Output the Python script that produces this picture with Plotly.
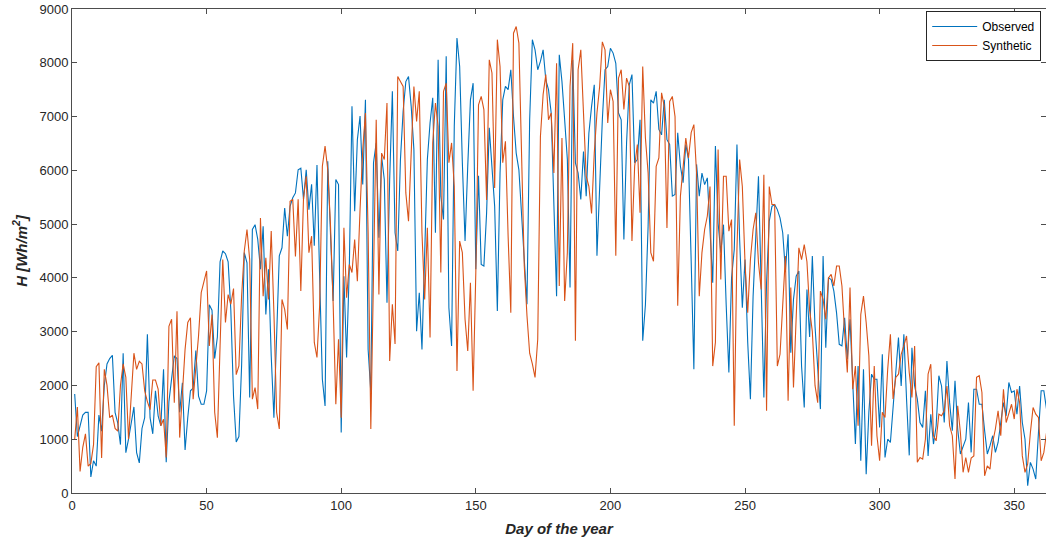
import plotly.graph_objects as go

observed = [
1840,1050,1250,1450,1500,1500,300,600,500,1450,
1150,2000,2400,2500,2560,1500,1300,900,2600,750,
1000,1300,1600,750,560,1200,1400,2950,1400,1100,
1900,1435,1250,2300,570,1700,2100,2550,2500,1500,
2050,800,1400,1900,1950,2650,1800,1650,1650,1900,
3500,3400,2500,2900,4300,4500,4450,4300,3400,1800,
950,1050,2365,4470,4280,1775,4900,4990,4715,4160,
4960,3320,4160,2550,1400,2920,4410,4560,5300,4775,
5330,5490,5580,6010,6040,5460,6010,5270,5740,4600,
6100,4000,2115,1620,6170,4840,3570,5830,5735,1125,
4030,2520,4160,7190,5240,6570,7010,5735,7310,2670,
1870,6140,6510,4745,6260,5830,3540,5830,7470,4840,
4500,6200,7100,7650,7745,7190,6385,3010,3725,2670,
4470,6200,6880,7350,4840,8055,5520,5085,8120,3445,
2735,6820,8460,7930,6140,4685,6075,7310,7620,4160,
5900,4250,4220,5200,6790,5950,5330,3385,5950,7310,
7560,7500,7870,7000,6320,6010,5150,4280,3510,6940,
8430,8240,7870,8025,8240,7680,7500,7065,5460,3660,
8150,7650,6940,6200,3820,8055,6140,5950,5460,6350,
5520,6690,7190,7590,4410,5700,6940,7870,7930,8270,
8180,7990,7065,6940,4715,6510,7590,7780,6140,6200,
6940,2830,3500,4960,7310,7250,7470,6760,6660,7310,
6570,6480,5520,5550,6700,6075,5770,6480,6200,4310,
2300,6110,5520,5950,5735,5860,4960,3910,6450,5020,
4470,4990,3500,2240,4000,4530,6480,4715,3445,4340,
2800,1745,3660,4775,5890,3850,1775,3910,5055,5330,
5365,5270,5115,4840,4130,4810,2610,3600,4030,4130,
2360,1590,3785,2900,4405,3100,2360,1560,4405,2700,
4000,3970,3755,3350,2765,2735,3260,2490,3230,2115,
910,2360,600,2300,350,1500,2210,2115,2115,1220,
2580,660,1000,940,1600,2115,2890,1990,2950,1745,
700,2700,1990,1745,1310,1220,1900,690,1465,910,
1250,2180,1990,1310,2455,1680,1160,2085,1190,725,
880,1000,1680,755,1930,1930,1650,1650,1160,725,
880,1065,755,940,1310,1680,1435,2055,1870,1900,
1465,1990,1310,1000,135,570,445,260,1125,1900,
1900,1560,
]

synthetic = [
1000,1600,400,850,1100,500,550,900,2350,2420,
650,2300,2000,1400,1450,1200,1150,2000,2400,2150,
1000,1800,2600,2300,2450,2400,1900,1700,1550,2100,
2100,1930,1250,1370,660,3100,3230,1680,3380,1030,
1870,2670,3170,3260,1745,2360,2920,3725,3940,4130,
2735,3320,1500,1030,2735,4340,3170,3690,3510,3800,
2200,2365,3660,4500,4900,4340,1745,1960,1560,5115,
3660,4375,3600,4870,3350,1500,1190,3600,3415,3040,
5425,5460,4400,5460,3755,5490,5890,4470,4775,2800,
2520,3500,6075,6450,6010,5000,3540,1650,2860,1400,
4930,3630,4250,4100,4715,3940,5270,6385,7065,4840,
1190,4065,6940,3690,6320,6200,7250,2455,3510,2770,
7745,7650,7560,5580,5055,6320,7560,6910,7470,4840,
3600,4930,2890,6510,7250,6820,4100,7470,7620,6140,
6510,5700,2270,4685,4470,3230,2640,3910,1900,4100,
7220,7375,7130,5450,8055,7810,5670,8430,7930,6140,
6540,4775,3350,8550,8675,8365,6010,4220,3300,2600,
2400,2150,2860,6630,7410,7780,6940,7065,5950,7990,
3850,6600,3570,4470,7560,8365,2830,7870,8240,7065,
5890,5700,5200,6320,7065,7560,8390,8240,6880,7500,
7280,4410,7715,7870,7130,7715,7560,4685,6075,6480,
5210,7930,6600,5950,4470,4310,6075,6230,7440,7190,
4930,7280,7375,7000,3480,5520,6010,6600,6230,6700,
6850,5950,3660,4470,4900,5150,5700,2360,2800,6385,
3970,5890,5890,4870,5085,1250,4530,6200,5700,4280,
3350,4340,4900,5210,4280,3785,5920,1530,5700,5365,
5365,2360,2580,3385,4405,1715,3820,1960,3170,4560,
4340,4620,4300,3400,3000,2000,1680,3755,3600,3230,
4000,4065,3850,4220,4220,3850,2980,2240,3820,1930,
2360,1250,3320,3660,3170,2550,880,2360,1065,600,
1500,1405,2300,2950,1750,2150,2210,2580,2735,2920,
2240,1775,2735,570,660,630,1000,2210,2395,1065,
970,1465,1435,1530,1990,1250,1065,260,1620,1125,
385,660,385,650,690,2150,2180,1870,320,505,
445,940,1190,1530,1065,1930,1310,1500,1650,1375,
1930,1680,690,385,540,1125,1590,1465,1405,600,
755,1125,
]

days_obs = list(range(1, len(observed) + 1))
days_syn = list(range(1, len(synthetic) + 1))

x_ticks = [0, 50, 100, 150, 200, 250, 300, 350]
y_ticks = [0, 1000, 2000, 3000, 4000, 5000, 6000, 7000, 8000, 9000]

fig = go.Figure()
fig.add_trace(go.Scatter(x=days_obs, y=observed, mode="lines", name="Observed",
                         line=dict(color="#0072BD", width=1.1)))
fig.add_trace(go.Scatter(x=days_syn, y=synthetic, mode="lines", name="Synthetic",
                         line=dict(color="#D95319", width=1.1)))

axis_color = "#4d4d4d"
fig.update_layout(
    width=1046, height=544,
    margin=dict(l=72, r=0, t=9, b=51, autoexpand=False),
    paper_bgcolor="white", plot_bgcolor="white",
    font=dict(family="Liberation Sans, Arial, sans-serif", size=13, color="#262626"),
    showlegend=True,
    legend=dict(x=0.877, y=0.996, xanchor="left", yanchor="top",
                bgcolor="white", bordercolor="#262626", borderwidth=1,
                font=dict(size=12, color="#000000"),
                tracegroupgap=0, itemwidth=45),
    xaxis=dict(range=[0, 361.8], tickvals=x_ticks, ticks="inside", ticklen=5,
               tickcolor=axis_color, showline=True, linecolor=axis_color, linewidth=1,
               mirror="ticks", showgrid=False, zeroline=False, automargin=False,
               title=dict(text="<b><i>Day of the year</i></b>", font=dict(size=15, color="#262626"),
                          standoff=11)),
    yaxis=dict(range=[0, 9000], tickvals=y_ticks, ticks="inside", ticklen=5,
               tickcolor=axis_color, showline=True, linecolor=axis_color, linewidth=1,
               mirror="ticks", showgrid=False, zeroline=False, automargin=False,
               title=dict(text="<b><i>H [Wh/m<sup>2</sup>]</i></b>", font=dict(size=15, color="#262626"),
                          standoff=8)),
)

fig.write_html("out.html", config={"displayModeBar": False},
               post_script="document.body.style.margin='0';document.body.style.overflow='hidden';")
